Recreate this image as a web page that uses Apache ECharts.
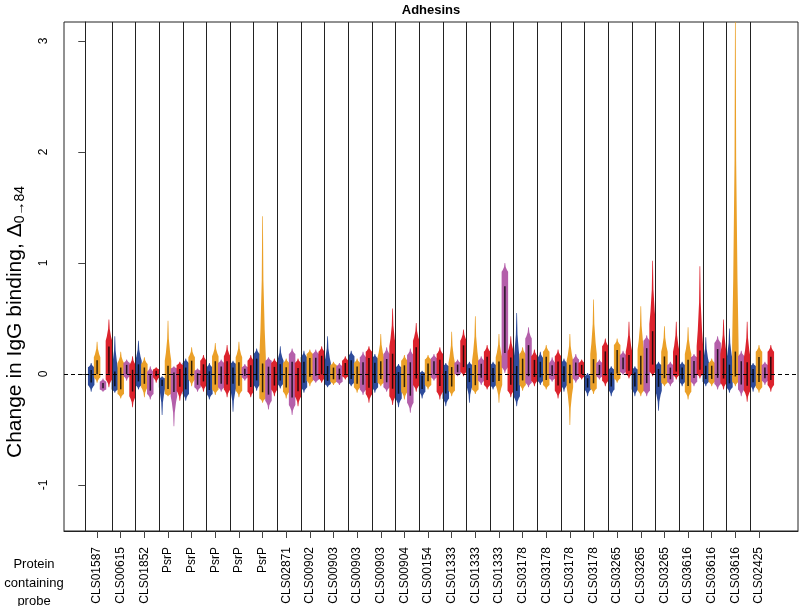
<!DOCTYPE html>
<html>
<head>
<meta charset="utf-8">
<script src="https://cdn.jsdelivr.net/npm/echarts@6/dist/echarts.min.js"></script>
<style>
html, body { margin: 0; padding: 0; background: #fff; }
#chart { width: 799px; height: 606px; }
</style>
</head>
<body>
<div id="chart"></div>
<script>
// protein containing each probe, one per group of four violins
const probes = ['CLS01587', 'CLS00615', 'CLS01852', 'PsrP', 'PsrP', 'PsrP', 'PsrP', 'PsrP',
  'CLS02871', 'CLS00902', 'CLS00903', 'CLS00903', 'CLS00903', 'CLS00904', 'CLS00154',
  'CLS01333', 'CLS01333', 'CLS01333', 'CLS03178', 'CLS03178', 'CLS03178', 'CLS03178',
  'CLS03265', 'CLS03265', 'CLS03265', 'CLS03616', 'CLS03616', 'CLS03616', 'CLS02425'];

const yTicks = [-1, 0, 1, 2, 3];

// each violin: [min, q1, q3, max]
const blue = [
  [-0.16, -0.10, 0.06, 0.10], [-0.17, -0.14, 0.05, 0.34], [-0.14, -0.10, 0.12, 0.30],
  [-0.37, -0.12, -0.04, -0.02], [-0.24, -0.18, 0.10, 0.14], [-0.23, -0.18, 0.06, 0.10],
  [-0.34, -0.12, 0.09, 0.12], [-0.15, -0.10, 0.18, 0.23], [-0.13, -0.09, 0.12, 0.25],
  [-0.17, -0.12, 0.15, 0.21], [-0.12, -0.09, 0.10, 0.34], [-0.11, -0.08, 0.16, 0.21],
  [-0.17, -0.12, 0.14, 0.18], [-0.30, -0.22, 0.06, 0.09], [-0.22, -0.16, 0.01, 0.03],
  [-0.29, -0.22, 0.07, 0.10], [-0.26, -0.10, 0.08, 0.11], [-0.14, -0.10, 0.08, 0.11],
  [-0.29, -0.20, 0.12, 0.55], [-0.10, -0.06, 0.14, 0.20], [-0.16, -0.10, 0.10, 0.14],
  [-0.20, -0.14, -0.02, 0.01], [-0.20, -0.14, 0.04, 0.07], [-0.20, -0.14, 0.04, 0.07],
  [-0.33, -0.15, 0.08, 0.11], [-0.11, -0.07, 0.08, 0.11], [-0.11, -0.07, 0.10, 0.33],
  [-0.17, -0.12, 0.12, 0.41], [-0.16, -0.10, 0.07, 0.10]
];
const orange = [
  [-0.08, -0.03, 0.15, 0.29], [-0.22, -0.18, 0.10, 0.20], [-0.21, -0.12, 0.09, 0.15],
  [-0.20, -0.18, 0.12, 0.48], [-0.11, -0.05, 0.15, 0.24], [-0.19, -0.14, 0.16, 0.28],
  [-0.21, -0.15, 0.15, 0.29], [-0.26, -0.22, 0.15, 1.42], [-0.22, -0.16, 0.10, 0.14],
  [-0.11, -0.06, 0.18, 0.22], [-0.10, -0.07, 0.08, 0.11], [-0.17, -0.12, 0.10, 0.14],
  [-0.11, -0.08, 0.15, 0.36], [-0.23, -0.16, 0.12, 0.17], [-0.14, -0.10, 0.13, 0.17],
  [-0.20, -0.15, 0.10, 0.38], [-0.18, -0.14, 0.12, 0.52], [-0.26, -0.10, 0.15, 0.36],
  [-0.15, -0.10, 0.18, 0.24], [-0.14, -0.10, 0.20, 0.26], [-0.46, -0.12, 0.12, 0.36],
  [-0.18, -0.13, 0.18, 0.67], [-0.08, -0.04, 0.26, 0.32], [-0.20, -0.15, 0.22, 0.61],
  [-0.11, -0.08, 0.20, 0.43], [-0.23, -0.16, 0.18, 0.42], [-0.11, -0.07, 0.10, 0.14],
  [-0.11, -0.07, 0.25, 3.30], [-0.17, -0.12, 0.20, 0.26]
];
const purple = [
  [-0.16, -0.14, -0.07, -0.04], [-0.06, -0.02, 0.10, 0.13], [-0.23, -0.18, 0.02, 0.07],
  [-0.47, -0.20, 0.05, 0.07], [-0.16, -0.12, 0.03, 0.05], [-0.16, -0.12, 0.10, 0.13],
  [-0.06, -0.03, 0.06, 0.09], [-0.32, -0.24, 0.12, 0.15], [-0.37, -0.28, 0.18, 0.23],
  [-0.08, -0.05, 0.18, 0.22], [-0.10, -0.07, 0.07, 0.10], [-0.19, -0.14, 0.15, 0.20],
  [-0.16, -0.12, 0.18, 0.24], [-0.35, -0.26, 0.17, 0.23], [-0.06, -0.03, 0.14, 0.18],
  [-0.02, 0.00, 0.10, 0.13], [-0.10, -0.06, 0.12, 0.16], [0.01, 0.06, 0.92, 1.00],
  [-0.12, -0.08, 0.32, 0.42], [-0.07, -0.04, 0.10, 0.15], [-0.08, -0.04, 0.13, 0.18],
  [-0.05, -0.02, 0.10, 0.13], [-0.01, 0.02, 0.17, 0.21], [-0.20, -0.15, 0.30, 0.35],
  [-0.11, -0.07, 0.08, 0.11], [-0.11, -0.07, 0.15, 0.18], [-0.14, -0.09, 0.28, 0.34],
  [-0.20, -0.14, 0.16, 0.21], [-0.10, -0.06, 0.08, 0.11]
];
const red = [
  [-0.12, -0.05, 0.30, 0.49], [-0.30, -0.20, 0.08, 0.16], [-0.08, -0.03, 0.04, 0.06],
  [-0.24, -0.15, 0.08, 0.11], [-0.16, -0.10, 0.12, 0.17], [-0.21, -0.14, 0.16, 0.26],
  [-0.21, -0.16, 0.12, 0.17], [-0.20, -0.14, 0.10, 0.14], [-0.29, -0.20, 0.10, 0.14],
  [-0.08, -0.04, 0.20, 0.25], [-0.05, -0.02, 0.12, 0.16], [-0.26, -0.18, 0.20, 0.25],
  [-0.28, -0.20, 0.25, 0.59], [-0.16, -0.10, 0.30, 0.46], [-0.23, -0.16, 0.18, 0.24],
  [-0.02, 0.02, 0.30, 0.40], [-0.14, -0.10, 0.20, 0.26], [-0.21, -0.15, 0.20, 0.34],
  [-0.11, -0.06, 0.16, 0.22], [-0.22, -0.15, 0.16, 0.22], [-0.05, -0.02, 0.10, 0.13],
  [-0.11, -0.06, 0.25, 0.32], [-0.04, 0.00, 0.20, 0.47], [-0.02, 0.02, 0.45, 1.02],
  [-0.05, -0.01, 0.20, 0.47], [-0.04, 0.00, 0.25, 0.97], [-0.14, -0.08, 0.18, 0.49],
  [-0.25, -0.15, 0.15, 0.47], [-0.16, -0.10, 0.20, 0.26]
];

const groups = [
  { data: blue, color: '#2d4b9b' },
  { data: orange, color: '#eba028' },
  { data: purple, color: '#b45faa' },
  { data: red, color: '#dc232d' },
];

// violins sit at x = 1..116, four per probe; probe ticks at the 2nd violin
const tickPos = probes.map((_, i) => 4 * i + 2);
const sepPos = probes.slice(1).map((_, i) => 4 * (i + 1) + 0.5);

function renderViolin(params, api) {
  const x = api.value(0);
  const top = api.coord([x, api.value(4)]);
  const cx = top[0], yMax = top[1];
  const yQ3 = api.coord([x, api.value(3)])[1];
  const yQ1 = api.coord([x, api.value(2)])[1];
  const yMin = api.coord([x, api.value(1)])[1];
  const hw = api.size([0.55, 0])[0];
  const up = yQ3 - yMax, dn = yMin - yQ1;
  const right = [
    [cx + hw * 0.1, yMax],
    [cx + hw * 0.25, yMax + up * 0.45],
    [cx + hw * 0.65, yMax + up * 0.8],
    [cx + hw, yQ3],
    [cx + hw, yQ1],
    [cx + hw * 0.65, yQ1 + dn * 0.2],
    [cx + hw * 0.25, yQ1 + dn * 0.55],
    [cx + hw * 0.1, yMin],
  ];
  const left = right.map(p => [2 * cx - p[0], p[1]]).reverse();
  const body = yQ1 - yQ3;
  return {
    type: 'group',
    children: [
      {
        type: 'polygon',
        shape: { points: right.concat(left) },
        style: { fill: api.visual('color') },
      },
      {
        type: 'line',
        shape: { x1: cx, y1: yQ3 + body * 0.15, x2: cx, y2: yQ1 - body * 0.15 },
        style: { stroke: '#000', lineWidth: 1.5, opacity: 0.8 },
      },
    ],
  };
}

const series = groups.map((g, k) => ({
  type: 'custom',
  clip: true,
  renderItem: renderViolin,
  itemStyle: { color: g.color },
  encode: { x: 0, y: [1, 2, 3, 4] },
  data: g.data.map((v, i) => [4 * i + k + 1, v[0], v[1], v[2], v[3]]),
  z: 3,
}));

// separators and zero line
series.push({
  type: 'line',
  data: [],
  silent: true,
  markLine: {
    symbol: 'none',
    silent: true,
    animation: false,
    label: { show: false },
    data: sepPos.map(p => ({ xAxis: p, lineStyle: { color: '#222', width: 1, type: 'solid' } }))
      .concat([{ yAxis: 0, lineStyle: { color: '#000', width: 1, type: [4, 3] } }]),
  },
  z: 4,
});

const chart = echarts.init(document.getElementById('chart'));
chart.setOption({
  animation: false,
  textStyle: { fontFamily: 'Liberation Sans, Arial, sans-serif' },
  grid: {
    left: 64, right: 1, top: 22, bottom: 75,
    outerBoundsMode: 'none', containLabel: false,
    show: true, borderColor: '#222', borderWidth: 1,
  },
  xAxis: {
    type: 'value',
    min: -3.6,
    max: 120.6,
    axisLine: { show: true, onZero: false, lineStyle: { color: '#222' } },
    splitLine: { show: false },
    axisTick: { show: true, customValues: tickPos, length: 7, lineStyle: { color: '#444' } },
    axisLabel: {
      customValues: tickPos,
      rotate: 90,
      margin: 16,
      fontSize: 12,
      color: '#000',
      formatter: v => probes[Math.round((v - 2) / 4)],
    },
  },
  yAxis: {
    type: 'value',
    min: -1.414,
    max: 3.17,
    axisLine: { show: true, lineStyle: { color: '#222' } },
    splitLine: { show: false },
    axisTick: { show: true, customValues: yTicks, length: 7, lineStyle: { color: '#444' } },
    axisLabel: { customValues: yTicks, rotate: 90, margin: 14, fontSize: 12, color: '#000' },
  },
  graphic: [
    {
      type: 'text', x: 431, y: 10,
      style: {
        text: 'Adhesins', fill: '#000', align: 'center', verticalAlign: 'middle',
        font: 'bold 13px Liberation Sans',
      },
    },
    {
      type: 'text', x: 15, y: 322, rotation: Math.PI / 2,
      style: {
        text: '{a|Change in IgG binding, Δ}{s|0→84}',
        align: 'center', verticalAlign: 'middle',
        rich: {
          a: { fontSize: 21, fill: '#000', fontFamily: 'Liberation Sans' },
          s: { fontSize: 14, fill: '#000', fontFamily: 'Liberation Sans', padding: [10, 0, 0, 0] },
        },
      },
    },
    {
      type: 'text', x: 34, y: 583,
      style: {
        text: 'Protein\ncontaining\nprobe', fill: '#000', align: 'center', verticalAlign: 'middle',
        font: '13px Liberation Sans', lineHeight: 18.5,
      },
    },
  ],
  series,
});
</script>
</body>
</html>
